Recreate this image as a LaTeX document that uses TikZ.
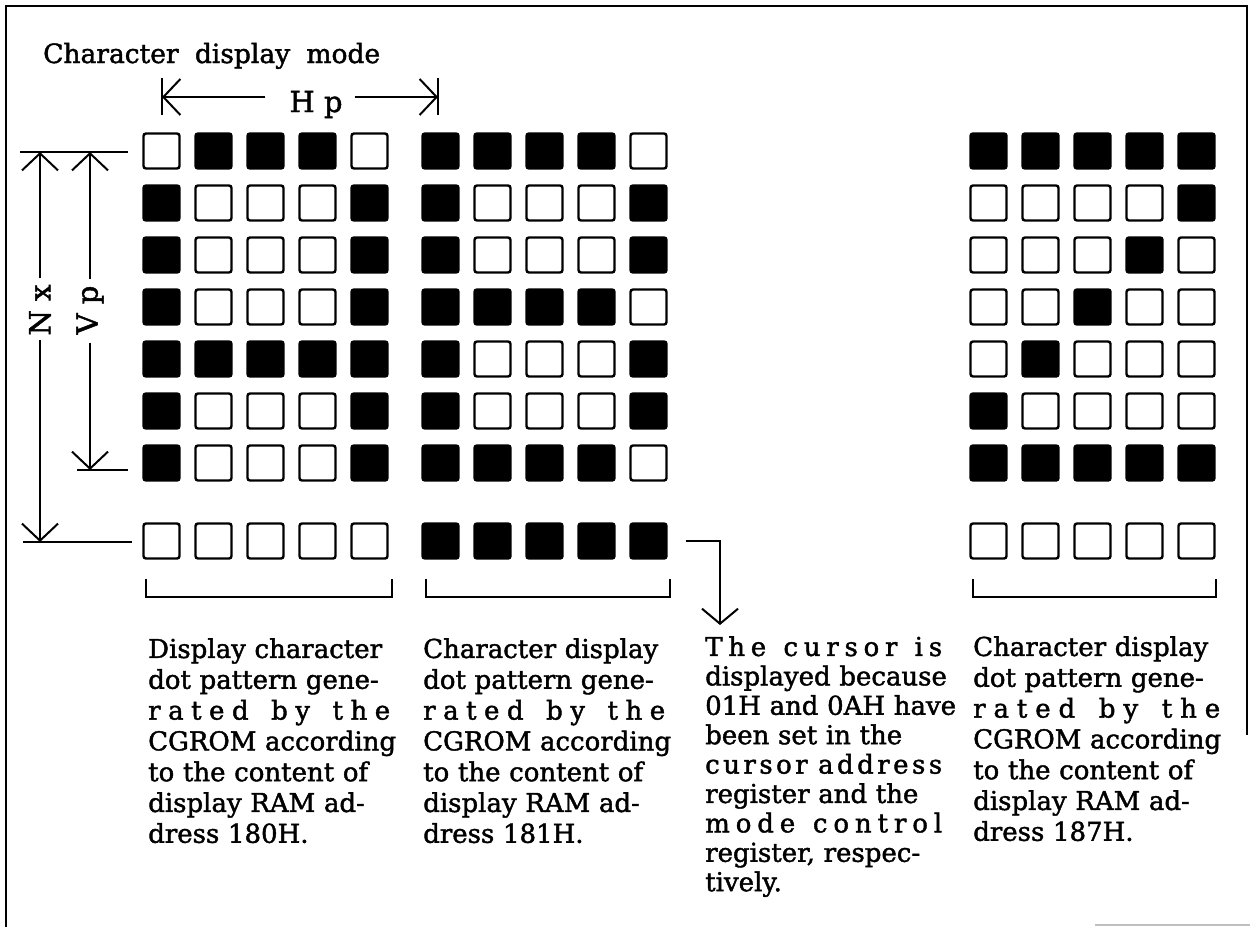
\documentclass[tikz,border=0pt]{standalone}
\usepackage{fontspec}
\setmainfont{DejaVu Serif}[BoldFont=DejaVu Serif, BoldFeatures={FakeBold=1.6}]
\usetikzlibrary{arrows.meta}
\newcommand\spread[1]{\makebox[\hsize][s]{#1}}

\begin{document}
\begin{tikzpicture}[x=1pt, y=-1pt,
        every node/.style={inner sep=0pt},
        dot/.style={draw, line width=2.4pt, rounded corners=2.5pt, minimum width=36pt, minimum height=35pt},
        dot o/.style={dot, fill=white},
        dot x/.style={dot, fill=black},
        frame/.style={line width=2.8pt},
        ext/.style={line width=2pt},
        dim/.style={line width=2pt, -{Straight Barb[length=17pt, width=36pt]}},
        cur/.style={line width=2pt, -{Straight Barb[length=15pt, width=36pt]}},
        brk/.style={line width=2.2pt},
        lbl/.style={font=\fontsize{29}{32}\selectfont\bfseries},
        desc/.style={font=\fontsize{26}{30.8}\selectfont\bfseries, align=left, anchor=north west},
      ]
      \useasboundingbox (0,0) rectangle (1252,927);
      \draw[frame] (6,927) -- (6,6) -- (1247,6) -- (1247,735);
      \draw[gray!50, line width=1.2pt] (1095,925) -- (1250,925);

      \node[lbl, font=\fontsize{26.5}{30}\selectfont\bfseries, anchor=base west] (title) at (43,63)
        {\makebox[337pt][s]{Character display mode}};

      \foreach \r/\pA/\pB/\pC/\pD/\pE in {1/o/x/x/x/o, 2/x/o/o/o/x, 3/x/o/o/o/x, 4/x/o/o/o/x,
          5/x/x/x/x/x, 6/x/o/o/o/x, 7/x/o/o/o/x, 8/o/o/o/o/o}{
        \pgfmathsetmacro\yy{ifthenelse(\r<8, 99+52*\r, 541)}
        \foreach \s [count=\k] in {\pA,\pB,\pC,\pD,\pE}
          \node[dot \s] (a-\r-\k) at ({109.5+52*\k}, \yy) {};
      }
      \foreach \r/\pA/\pB/\pC/\pD/\pE in {1/x/x/x/x/o, 2/x/o/o/o/x, 3/x/o/o/o/x, 4/x/x/x/x/o,
          5/x/o/o/o/x, 6/x/o/o/o/x, 7/x/x/x/x/o, 8/x/x/x/x/x}{
        \pgfmathsetmacro\yy{ifthenelse(\r<8, 99+52*\r, 541)}
        \foreach \s [count=\k] in {\pA,\pB,\pC,\pD,\pE}
          \node[dot \s] (b-\r-\k) at ({388.5+52*\k}, \yy) {};
      }
      \foreach \r/\pA/\pB/\pC/\pD/\pE in {1/x/x/x/x/x, 2/o/o/o/o/x, 3/o/o/o/x/o, 4/o/o/x/o/o,
          5/o/x/o/o/o, 6/x/o/o/o/o, 7/x/x/x/x/x, 8/o/o/o/o/o}{
        \pgfmathsetmacro\yy{ifthenelse(\r<8, 99+52*\r, 541)}
        \foreach \s [count=\k] in {\pA,\pB,\pC,\pD,\pE}
          \node[dot \s] (c-\r-\k) at ({936.5+52*\k}, \yy) {};
      }

      \coordinate (hpl) at (162,97);
      \coordinate (hpr) at (438,97);
      \draw[ext] (162,78) -- (162,115);
      \draw[ext] (438,78) -- (438,115);
      \node[lbl, anchor=base] (hp) at (316,112) {H p};
      \draw[dim, shorten <=24pt] (hpl -| hp.west) -- (hpl);
      \draw[dim, shorten <=12pt] (hpr -| hp.east) -- (hpr);

      \draw[ext] (20,152) -- (128,152);
      \draw[ext] (77,470) -- (128,470);
      \draw[ext] (23,542) -- (132,542);
      \coordinate (nxt) at (40,152);
      \coordinate (nxb) at (40,542);
      \coordinate (vpt) at (90,152);
      \coordinate (vpb) at (90,470);
      \node[lbl, rotate=90] (nx) at (40,310) {N x};
      \node[lbl, rotate=90] (vp) at (90,310) {V p};
      \draw[dim, shorten <=6pt] (nx.east) -- (nxt);
      \draw[dim, shorten <=4pt] (nx.west) -- (nxb);
      \draw[dim, shorten <=6pt] (vp.east) -- (vpt);
      \draw[dim, shorten <=8pt] (vp.west) -- (vpb);

      \draw[brk] (146,579) |- (392,597) -- (392,579);
      \draw[brk] (426,579) |- (670,597) -- (670,579);
      \draw[brk] (973,579) |- (1216,597) -- (1216,579);

      \coordinate (curtip) at (720,625);
      \draw[cur, shorten <=18pt] (b-8-5.east) -| (curtip);

      \node[desc, text width=242pt] (txa) at (148,638) {\spread{Display character}\\
        \spread{dot pattern gene-}\\
        \spread{r\hfill a\hfill t\hfill e\hfill d\hfill\hfill\hfill b\hfill y\hfill\hfill\hfill t\hfill h\hfill e}\\
        \spread{CGROM according}\\
        \spread{to the content of}\\
        \spread{display RAM ad-}\\
        dress 180H.};
      \node[desc, text width=242pt] (txb) at (423,638) {\spread{Character display}\\
        \spread{dot pattern gene-}\\
        \spread{r\hfill a\hfill t\hfill e\hfill d\hfill\hfill\hfill b\hfill y\hfill\hfill\hfill t\hfill h\hfill e}\\
        \spread{CGROM according}\\
        \spread{to the content of}\\
        \spread{display RAM ad-}\\
        dress 181H.};
      \node[desc, text width=237pt, font=\fontsize{26}{29.4}\selectfont\bfseries] (txc) at (705,636) {%
        \spread{T\hfill h\hfill e\hfill\hfill\hfill c\hfill u\hfill r\hfill s\hfill o\hfill r\hfill\hfill\hfill i\hfill s}\\
        \spread{displayed because}\\
        \spread{01H and 0AH have}\\
        \spread{been set in the}\\
        \spread{c\hfill u\hfill r\hfill s\hfill o\hfill r\hfill\hfill\hfill a\hfill d\hfill d\hfill r\hfill e\hfill s\hfill s}\\
        \spread{register and the}\\
        \spread{m\hfill o\hfill d\hfill e\hfill\hfill\hfill c\hfill o\hfill n\hfill t\hfill r\hfill o\hfill l}\\
        \spread{register, respec-}\\
        tively.};
      \node[desc, text width=247pt] (txd) at (973,636) {\spread{Character display}\\
        \spread{dot pattern gene-}\\
        \spread{r\hfill a\hfill t\hfill e\hfill d\hfill\hfill\hfill b\hfill y\hfill\hfill\hfill t\hfill h\hfill e}\\
        \spread{CGROM according}\\
        \spread{to the content of}\\
        \spread{display RAM ad-}\\
        dress 187H.};
    \end{tikzpicture}
\end{document}
